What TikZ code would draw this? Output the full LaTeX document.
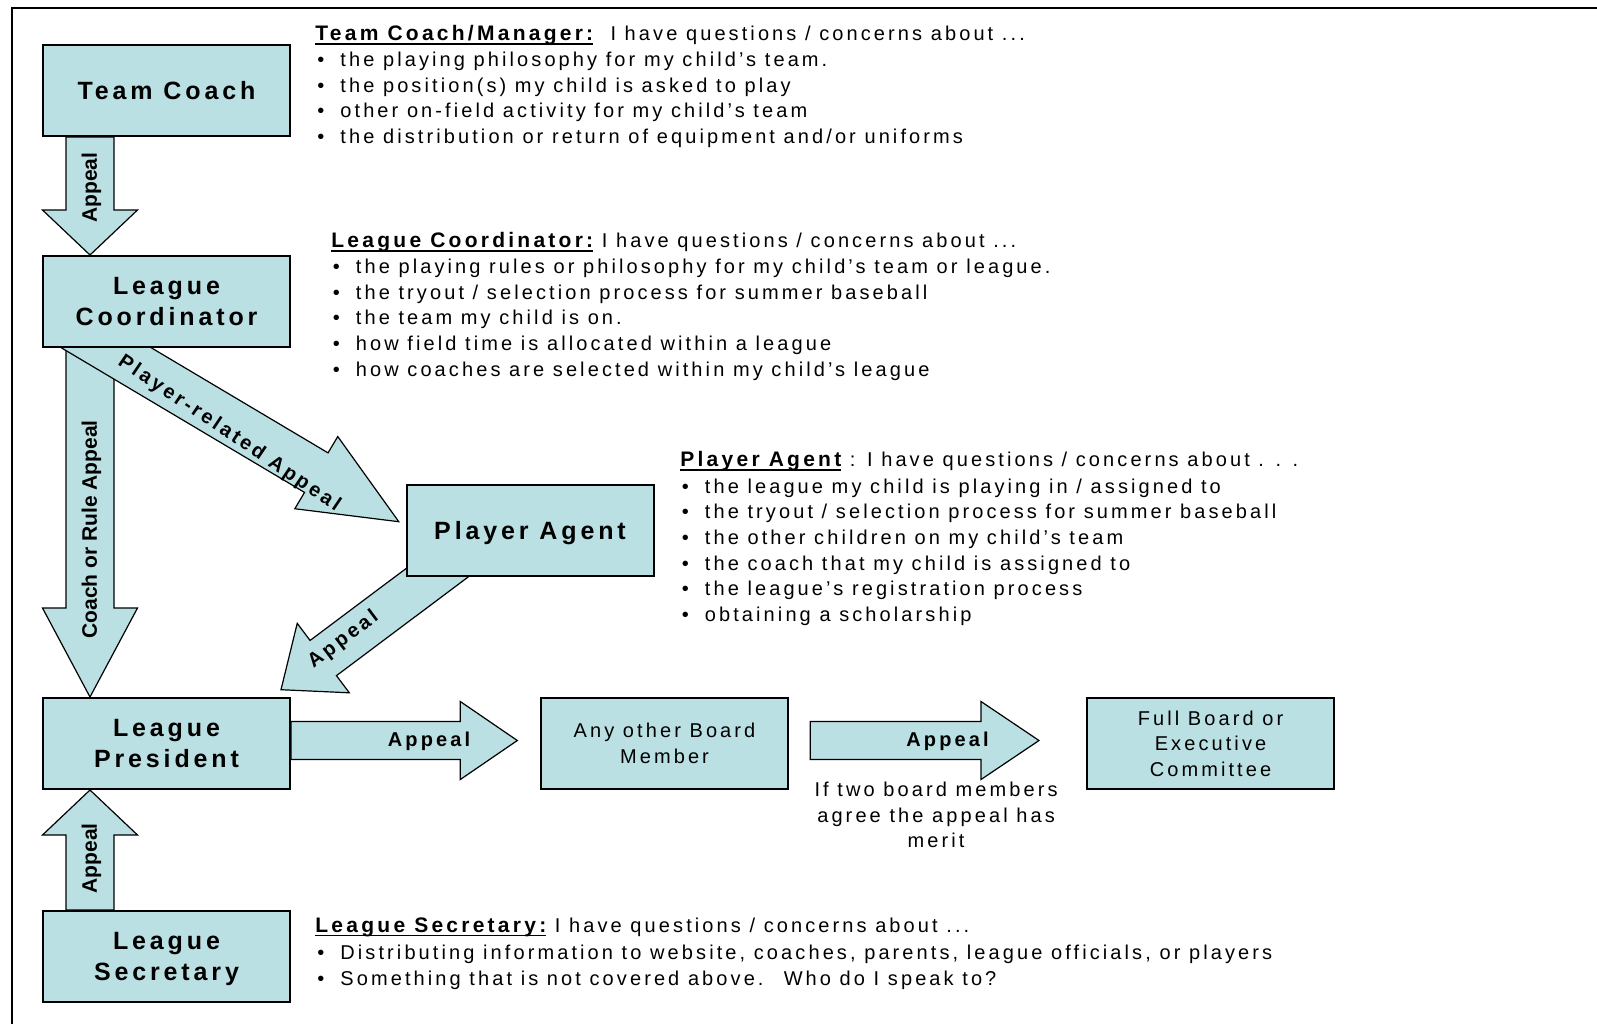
\documentclass[tikz,border=0pt]{standalone}
\usepackage{fontspec}
\setmainfont{Liberation Sans}[LetterSpace=15.5]
\newfontfamily\tightfont{Liberation Sans}
\usetikzlibrary{calc}

\definecolor{boxblue}{RGB}{187,224,227}
\pgfdeclarelayer{bg}
\pgfsetlayers{bg,main}

\newsavebox\hdrbox
\newcommand\hdr[1]{\sbox\hdrbox{\fontsize{10.5}{12}\selectfont\bfseries#1}\rlap{\rule[-2.2pt]{\wd\hdrbox}{0.9pt}}\usebox\hdrbox}

% tail, tip, half shaft, half head, head length
\newcommand\blockarrow[5]{%
  \coordinate (hb) at ($(#2)!#5!(#1)$);
  \draw[arrowbody] ($(#1)!#3!90:(#2)$) -- ($(hb)!#3!90:(#2)$) -- ($(hb)!#4!90:(#2)$) -- (#2)
    -- ($(hb)!#4!-90:(#2)$) -- ($(hb)!#3!-90:(#2)$) -- ($(#1)!#3!-90:(#2)$) -- cycle;
}

\begin{document}
\begin{tikzpicture}[x=0.5pt,y=-0.5pt]
\tikzset{box/.style = {draw, line width=1pt, fill=boxblue, minimum width=123.5pt, minimum height=45.5pt, inner sep=0pt, align=center, text depth=0pt, font=\fontsize{12.5}{15.5}\selectfont\bfseries}}
\tikzset{plainbox/.style = {box, font=\fontsize{10}{12.8}\selectfont}}
\tikzset{arrowbody/.style = {draw, line width=0.6pt, fill=boxblue}}
\tikzset{lbl/.style = {inner sep=0pt, font=\fontsize{10}{12}\selectfont\bfseries}}
\tikzset{vlbl/.style = {inner sep=0pt, rotate=90, font=\tightfont\fontsize{10.5}{12}\selectfont\bfseries}}
\tikzset{txt/.style = {anchor=base west, inner sep=0pt, font=\fontsize{10}{12}\selectfont}}
\tikzset{item/.style = {txt, execute at begin node={\makebox[11.5pt][l]{\textbullet}}}}

\useasboundingbox (0,0) rectangle (1597,1024);
\draw[line width=1pt] (12,1024) -- (12,8) -- (1597,8);

% boxes
\node[box] (coach) at (166.5,90.5) {Team Coach};
\node[box] (coord) at (166.5,301.5) {League\\Coordinator};
\node[box] (agent) at (530,530.5) {Player Agent};
\node[box] (pres) at (166.5,743.5) {League\\President};
\node[plainbox] (board) at (664.5,743.5) {Any other Board\\Member};
\node[plainbox] (full) at (1210.5,743.5) {Full Board or\\Executive\\Committee};
\node[box] (sec) at (166.5,956.5) {League\\Secretary};

% block arrows behind the boxes
\begin{pgfonlayer}{bg}
\coordinate (a1) at ($(coach.south west)+(48,0)$);
\coordinate (b1) at ($(coord.north west)+(48,0)$);
\coordinate (a2) at ($(coord.south west)+(48,0)$);
\coordinate (b2) at ($(pres.north west)+(48,0)$);
\coordinate (a3) at ($(coord.south west)+(13.4,-30.5)$);
\coordinate (b3) at ($(agent.west)+(-6.7,-8.8)$);
\coordinate (a4) at ($(agent.south west)+(59.3,-25)$);
\coordinate (b4) at ($(pres.north east)+(-10,-7.3)$);
\coordinate (a5) at ($(pres.east)+(0,-3)$);
\coordinate (b5) at ($(board.west)+(-22.7,-3)$);
\coordinate (a6) at ($(board.east)+(21.3,-3)$);
\coordinate (b6) at ($(full.west)+(-47,-3)$);
\coordinate (a7) at ($(sec.north west)+(48,0)$);
\coordinate (b7) at ($(pres.south west)+(48,0)$);
\blockarrow{a1}{b1}{12pt}{23.75pt}{22.5pt}
\blockarrow{a2}{b2}{12pt}{23.75pt}{44.5pt}
\blockarrow{a3}{b3}{11.5pt}{21pt}{48pt}
\blockarrow{a4}{b4}{11pt}{21.7pt}{26.4pt}
\blockarrow{a5}{b5}{9.5pt}{19.5pt}{28.5pt}
\blockarrow{a6}{b6}{9.5pt}{19.5pt}{29pt}
\blockarrow{a7}{b7}{12pt}{23.75pt}{22.5pt}
\end{pgfonlayer}

% arrow labels
\node[vlbl] (l1) at ($(a1)!0.43!(b1)+(1.5,0)$) {Appeal};
\node[vlbl] (l2) at ($(a2)!0.52!(b2)+(1.5,0)$) {Coach or Rule Appeal};
\node[lbl, rotate=-34] (l3) at ($(a3)!0.5!(b3)+(2,14)$) {Player-related Appeal};
\node[lbl, rotate=36.9] (l4) at ($(a4)!0.66!(b4)+(0,-3)$) {Appeal};
\node[lbl] (l5) at ($(a5)!0.61!(b5)+(0,1)$) {Appeal};
\node[lbl] (l6) at ($(a6)!0.6!(b6)+(0,1)$) {Appeal};
\node[vlbl] (l7) at ($(a7)!0.43!(b7)+(1.5,0)$) {Appeal};
\node[inner sep=0pt, anchor=north, align=center, font=\fontsize{10}{12.8}\selectfont] (note) at ($(a6)!0.55!(b6)+(0,41)$) {If two board members\\agree the appeal has\\merit};

% question lists
\node[txt] (tchead) at (315,40.5) {\hdr{Team Coach/Manager:}~ I have questions / concerns about ...};
\foreach \entry [count=\i from 0] in {the playing philosophy for my child's team., the position(s) my child is asked to play, other on-field activity for my child's team, the distribution or return of equipment and/or uniforms}
\node[item] at (317,{66.5+25.7*\i}) {\entry};

\node[txt] (lchead) at (331,247.5) {\hdr{League Coordinator:} I have questions / concerns about ...};
\foreach \entry [count=\i from 0] in {the playing rules or philosophy for my child's team or league., the tryout / selection process for summer baseball, the team my child is on., how field time is allocated within a league, how coaches are selected within my child's league}
\node[item] at (332.5,{273.5+25.7*\i}) {\entry};

\node[txt] (pahead) at (680,466.5) {\hdr{Player Agent} : I have questions / concerns about . . .};
\foreach \entry [count=\i from 0] in {the league my child is playing in / assigned to, the tryout / selection process for summer baseball, the other children on my child's team, the coach that my child is assigned to, the league's registration process, obtaining a scholarship}
\node[item] at (681.5,{493+25.7*\i}) {\entry};

\node[txt] (lshead) at (315,932) {\hdr{League Secretary:} I have questions / concerns about ...};
\foreach \entry [count=\i from 0] in {{Distributing information to website, coaches, parents, league officials, or players}, {Something that is not covered above.~ Who do I speak to?}}
\node[item] at (317,{959.5+25.7*\i}) {\entry};

\end{tikzpicture}
\end{document}
